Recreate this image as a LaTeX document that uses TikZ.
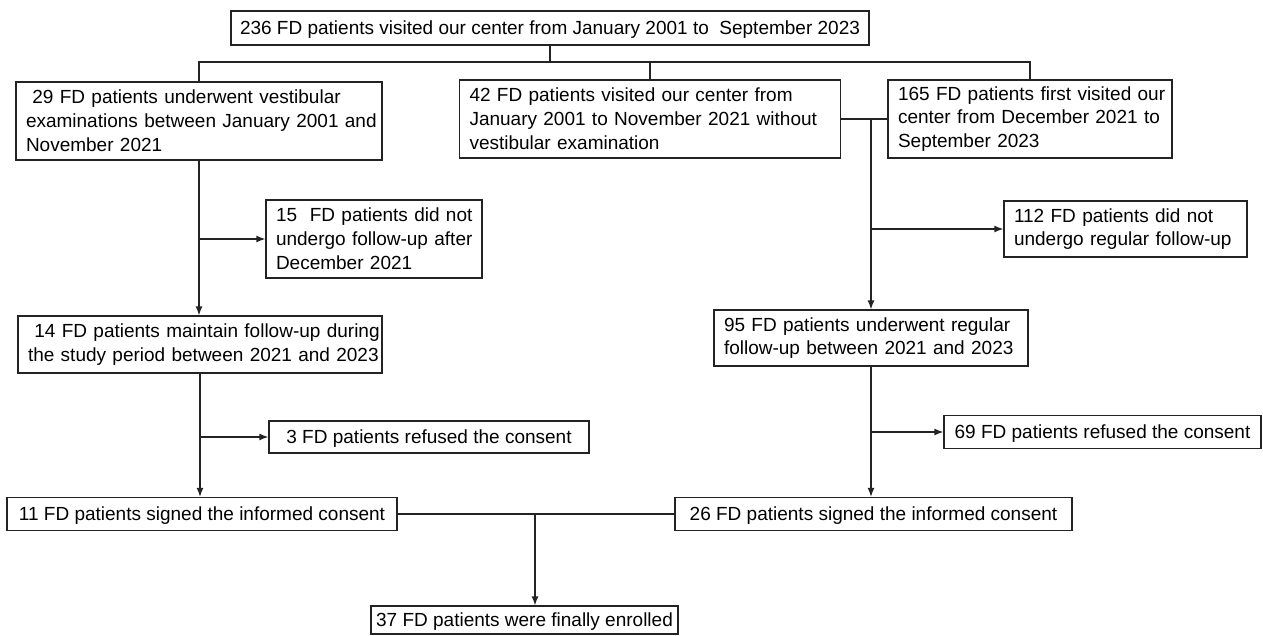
\documentclass[tikz,border=0pt]{standalone}
\usepackage{fontspec}
\setmainfont{Liberation Sans}
\usetikzlibrary{arrows.meta}
\definecolor{ln}{RGB}{35,35,35}
\newcommand{\boxline}[1]{\mbox{#1}}
\tikzset{
  bx/.style={draw=ln, line width=1.3pt, inner xsep=10pt, inner ysep=0pt, align=left,
    font=\fontsize{19}{23.8}\selectfont, text=black},
  onebx/.style={bx, inner xsep=4pt, align=center, text height=13.6pt, text depth=0pt},
  conn/.style={draw=ln, line width=1.3pt},
  arr/.style={conn, -{Latex[length=9pt,width=7pt]}}
}
\begin{document}
\begin{tikzpicture}[x=1pt,y=-1pt]
\useasboundingbox (0,0) rectangle (1263,636);
% boxes
\node[onebx, minimum width=638pt, minimum height=34pt] (top) at (550,28)
  {236 FD patients visited our center from January 2001 to\ \ September 2023};
\node[bx, minimum width=366pt, minimum height=78pt, text width=346pt] (b29) at (199,121)
  {\boxline{\ 29 FD patients underwent vestibular}\\\boxline{examinations between January 2001 and}\\\boxline{November 2021}};
\node[bx, minimum width=381pt, minimum height=78pt, text width=361pt] (b42) at (650,119)
  {\boxline{42 FD patients visited our center from}\\\boxline{January 2001 to November 2021 without}\\\boxline{vestibular examination}};
\node[bx, minimum width=284pt, minimum height=78pt, text width=264pt] (b165) at (1030,119)
  {\boxline{165 FD patients first visited our}\\\boxline{center from December 2021 to}\\\boxline{September 2023}};
\node[bx, minimum width=216pt, minimum height=78pt, text width=196pt] (b15) at (374,239)
  {\boxline{15\ \ FD patients did not}\\\boxline{undergo follow-up after}\\\boxline{December 2021}};
\node[bx, minimum width=243pt, minimum height=56pt, text width=223pt] (b112) at (1125.5,229)
  {\boxline{112 FD patients did not}\\\boxline{undergo regular follow-up}};
\node[bx, minimum width=364pt, minimum height=57pt, text width=344pt] (b14) at (200,344.5)
  {\boxline{\ 14 FD patients maintain follow-up during}\\\boxline{the study period between 2021 and 2023}};
\node[bx, minimum width=314pt, minimum height=56pt, text width=294pt] (b95) at (871,338)
  {\boxline{95 FD patients underwent regular}\\\boxline{follow-up between 2021 and 2023}};
\node[onebx, minimum width=320pt, minimum height=32pt] (b3) at (429,437)
  {3 FD patients refused the consent};
\node[onebx, minimum width=317pt, minimum height=33pt] (b69) at (1102.5,432)
  {69 FD patients refused the consent};
\node[onebx, minimum width=390pt, minimum height=33pt] (b11) at (202,514)
  {11 FD patients signed the informed consent};
\node[onebx, minimum width=397pt, minimum height=33pt] (b26) at (873.5,514)
  {26 FD patients signed the informed consent};
\node[onebx, minimum width=307pt, minimum height=28pt] (b37) at (524.5,620)
  {37 FD patients were finally enrolled};
% junction coordinates
\coordinate (bus) at (550,62);
\coordinate (m) at (871,119);
\coordinate (j) at (535,514);
% connectors
\draw[conn] (top.south) -- (top.south |- bus);
\draw[conn] (b29.north) -- (b29.north |- bus) -- (b165.north |- bus) -- (b165.north);
\draw[conn] (b42.north) -- (b42.north |- bus);
\draw[conn] (b42.east) -- (b165.west);
\draw[arr] (m) -- (m |- b95.north);
\draw[arr] (m |- b112.west) -- (b112.west);
\draw[arr] (b29.south) -- (b29.south |- b14.north);
\draw[arr] (b29.south |- b15.west) -- (b15.west);
\draw[arr] (b14.south) -- (b14.south |- b11.north);
\draw[arr] (b14.south |- b3.west) -- (b3.west);
\draw[arr] (b95.south) -- (b95.south |- b26.north);
\draw[arr] (b95.south |- b69.west) -- (b69.west);
\draw[conn] (b11.east) -- (b26.west);
\draw[arr] (j) -- (j |- b37.north);
\end{tikzpicture}
\end{document}
